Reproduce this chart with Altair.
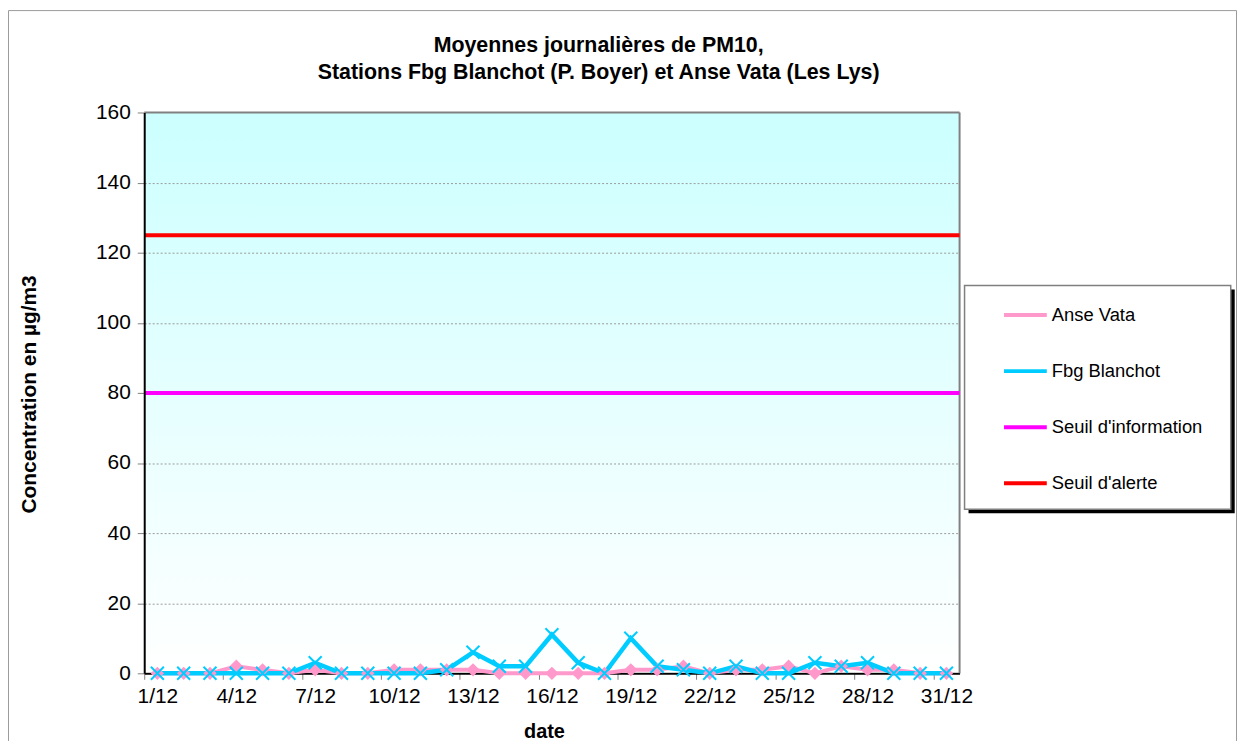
import altair as alt
import pandas as pd

# ---------------- data ----------------
days = list(range(1, 32))
anse_vata = [0, 0, 0, 2, 1, 0, 1, 0, 0, 1, 1, 1, 1, 0, 0, 0,
             0, 0, 1, 1, 2, 0, 1, 1, 2, 0, 2, 1, 1, 0, 0]
fbg_blanchot = [0, 0, 0, 0, 0, 0, 3, 0, 0, 0, 0, 1, 6, 2, 2, 11,
                3, 0, 10, 2, 1, 0, 2, 0, 0, 3, 2, 3, 0, 0, 0]
series_names = ["Anse Vata", "Fbg Blanchot", "Seuil d'information", "Seuil d'alerte"]
series_colors = ["#FF99CC", "#00CCFF", "#FF00FF", "#FF0000"]
threshold_values = [80, 125]
x_tick_days = list(range(1, 32, 3))
y_ticks = list(range(0, 161, 20))
title_lines = ["Moyennes journalières de PM10,",
               "Stations Fbg Blanchot (P. Boyer) et Anse Vata (Les Lys)"]
x_title = "date"
y_title = "Concentration en µg/m3"

# ---------------- layout ----------------
F = "Liberation Sans, Arial, Helvetica, sans-serif"
W, H = 820, 564
PAD = {"left": 137, "top": 103, "right": 279, "bottom": 68}
band = W / len(days)

av = pd.DataFrame({"day": days, "value": anse_vata, "series": series_names[0]})
fb = pd.DataFrame({"day": days, "value": fbg_blanchot, "series": series_names[1]})
thr = pd.DataFrame({"value": threshold_values, "series": series_names[2:]})
one = pd.DataFrame({"k": [0]})

color = alt.Color(
    "series:N",
    scale=alt.Scale(domain=series_names, range=series_colors),
    legend=alt.Legend(
        title=None, orient="none", legendX=862.7, legendY=180.2, padding=0,
        symbolType="stroke", symbolSize=1849, symbolStrokeWidth=4,
        labelOffset=3, rowPadding=23.4, labelFontSize=18.5, labelFont=F,
        labelColor="black", labelLimit=300,
    ),
)

x = alt.X(
    "day:Q",
    scale=alt.Scale(domain=[0.5, 31.5], nice=False, zero=False),
    axis=alt.Axis(
        values=x_tick_days, labelExpr="datum.value + '/12'",
        tickOffset=-band / 2, labelOffset=band / 2,
        labelFontSize=21, labelFont=F, labelColor="black", labelPadding=6,
        labelFlush=False, labelOverlap=False,
        tickColor="#808080", tickSize=6, tickWidth=1,
        domainColor="black", domainWidth=2, grid=False, zindex=0,
        titleFontSize=20, titleFont=F, titleFontWeight="bold", titleColor="black",
        titleX=402, titleY=59, titleBaseline="middle",
    ),
    title=x_title,
)

y = alt.Y(
    "value:Q",
    scale=alt.Scale(domain=[0, 160], nice=False),
    axis=alt.Axis(
        values=y_ticks, labelFontSize=21, labelFont=F, labelColor="black",
        labelPadding=7, tickColor="#808080", tickSize=7, tickWidth=1,
        domainColor="black", domainWidth=2, grid=True,
        gridColor={"condition": {"test": "datum.value === 0 || datum.value === 80 || datum.value === 160",
                                 "value": "transparent"},
                   "value": "#9a9a9a"},
        gridDash=[2, 2], gridWidth=1, zindex=1,
        titleFontSize=21, titleFont=F, titleFontWeight="bold", titleColor="black",
        titleX=-115, titleY=283, titleBaseline="middle",
    ),
    title=y_title,
)

# background gradient of plot area
bg = alt.Chart(one).mark_rect(
    color=alt.LinearGradient(
        gradient="linear",
        stops=[alt.GradientStop(color="#CCFFFF", offset=0),
               alt.GradientStop(color="#FFFFFF", offset=1)],
        x1=0, x2=0, y1=0, y2=1),
).encode(x=alt.value(0), x2=alt.value(W), y=alt.value(0), y2=alt.value(H - 1))

border_top = alt.Chart(one).mark_rule(color="#808080", strokeWidth=2).encode(
    x=alt.value(0), x2=alt.value(W), y=alt.value(0))
border_right = alt.Chart(one).mark_rule(color="#808080", strokeWidth=2).encode(
    x=alt.value(W), y=alt.value(0), y2=alt.value(H))

# outer chart frame
ol, ot = -PAD["left"] + 0.5, -PAD["top"] + 0.5
orr = W + PAD["right"] - 0.5
ob = H + PAD["bottom"]
outer_left = alt.Chart(one).mark_rule(color="#9a9a9a", strokeWidth=1).encode(
    x=alt.value(ol), y=alt.value(ot), y2=alt.value(ob))
outer_top = alt.Chart(one).mark_rule(color="#9a9a9a", strokeWidth=1).encode(
    x=alt.value(ol), x2=alt.value(orr), y=alt.value(ot))
outer_right = alt.Chart(one).mark_rule(color="#9a9a9a", strokeWidth=1).encode(
    x=alt.value(orr), y=alt.value(ot), y2=alt.value(ob))

# legend frame with shadow
leg_shadow = alt.Chart(one).mark_rect(color="black").encode(
    x=alt.value(829), x2=alt.value(1096.7), y=alt.value(178), y2=alt.value(403))
leg_box = alt.Chart(one).mark_rect(fill="white", stroke="#7f7f7f", strokeWidth=1.5).encode(
    x=alt.value(825), x2=alt.value(1092.7), y=alt.value(174), y2=alt.value(399))

thresholds = alt.Chart(thr).mark_rule(strokeWidth=4).encode(y=y, color=color)
line_av = alt.Chart(av).mark_line(strokeWidth=4).encode(x=x, y=y, color=color)
line_fb = alt.Chart(fb).mark_line(strokeWidth=4.5).encode(x=x, y=y, color=color)
pts_av = alt.Chart(av).mark_point(shape="diamond", filled=True, size=180,
                                  color=series_colors[0], opacity=1).encode(x=x, y=y)
pts_fb = alt.Chart(fb).mark_point(shape="M-1,-1L1,1M-1,1L1,-1", filled=False, size=170,
                                  color=series_colors[1], strokeWidth=2, opacity=1).encode(x=x, y=y)

chart = alt.layer(
    bg, border_top, border_right, outer_left, outer_top, outer_right,
    leg_shadow, leg_box, thresholds, line_av, line_fb, pts_av, pts_fb,
).properties(
    width=W, height=H, padding=PAD,
    autosize=alt.AutoSizeParams(type="none"),
    title=alt.TitleParams(
        text=title_lines, fontSize=21.5, font=F, fontWeight="bold", color="black",
        anchor="middle", frame="group", dx=47, dy=74, offset=0, lineHeight=27,
    ),
).configure_view(stroke=None)

chart.save("out.html", embed_options={"renderer": "svg", "actions": False})
